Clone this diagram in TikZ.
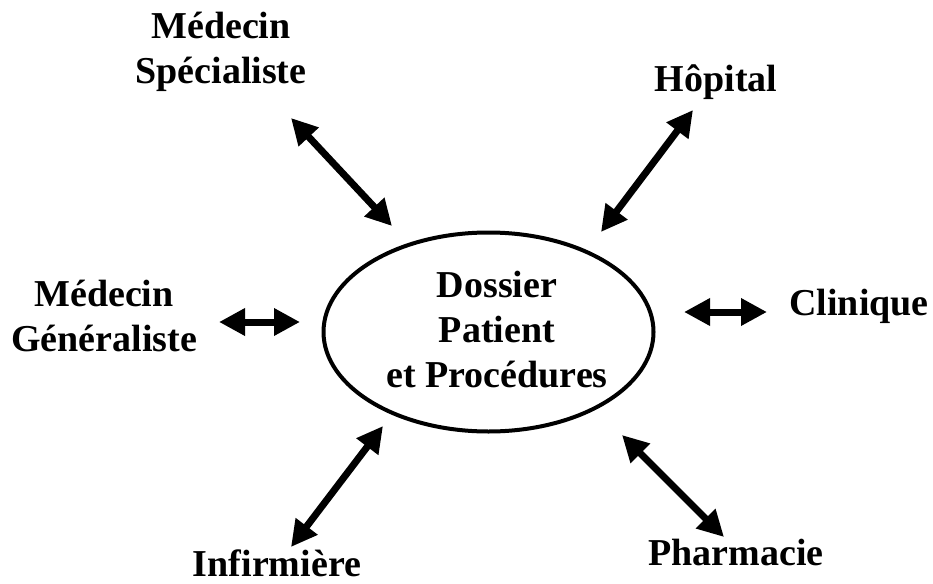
\documentclass[tikz,border=0pt]{standalone}
\usepackage{fontspec}
\setmainfont{Liberation Serif}
\usetikzlibrary{arrows.meta,shapes.geometric}
\begin{document}
\begin{tikzpicture}[x=1pt,y=-1pt,
  lbl/.style={font=\bfseries\fontsize{38}{45}\selectfont, align=center, inner sep=0pt, anchor=base},
  arr/.style={line width=7pt, {Triangle[length=26pt,width=26pt]}-{Triangle[length=26pt,width=26pt]}}]
\useasboundingbox (0,0) rectangle (933,583);
\node[draw, line width=4pt, ellipse, minimum width=330pt, minimum height=199pt, inner sep=0pt] (dossier) at (488.5,332) {};
\node[lbl] (dtext) at (497,387) {Dossier\\Patient\\et Procédures};
\node[lbl] (spec) at (221,84) {Médecin\\Spécialiste};
\node[lbl] (hop) at (716,92) {Hôpital};
\node[lbl] (gen) at (104,351) {Médecin\\Généraliste};
\node[lbl] (clin) at (859,315) {Clinique};
\node[lbl] (inf) at (277,576) {Infirmière};
\node[lbl] (pharm) at (736,565) {Pharmacie};
\coordinate (s1) at (291,118); \coordinate (s2) at (392,226);
\coordinate (h1) at (693,110); \coordinate (h2) at (601,232);
\coordinate (g1) at (219,322); \coordinate (g2) at (300,322);
\coordinate (c1) at (684,312); \coordinate (c2) at (767,312);
\coordinate (i1) at (383,426); \coordinate (i2) at (291,547);
\coordinate (p1) at (622,435); \coordinate (p2) at (724,537);
\draw[arr] (s1) -- (s2);
\draw[arr] (h1) -- (h2);
\draw[arr] (g1) -- (g2);
\draw[arr] (c1) -- (c2);
\draw[arr] (i1) -- (i2);
\draw[arr] (p1) -- (p2);
\end{tikzpicture}
\end{document}
